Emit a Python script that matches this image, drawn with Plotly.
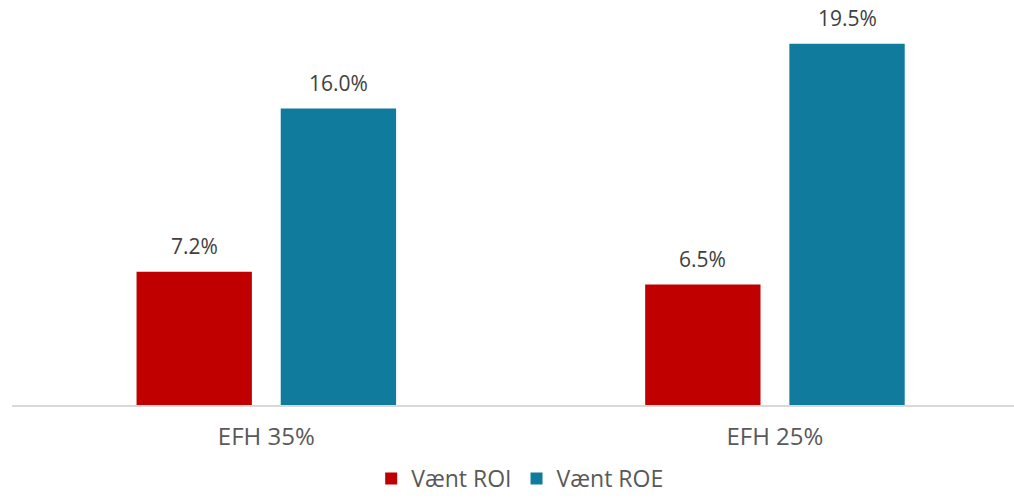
import plotly.graph_objects as go

categories = ["EFH 35%", "EFH 25%"]
roi = [7.2, 6.5]
roe = [16.0, 19.5]
series_names = ["Vænt ROI", "Vænt ROE"]

RED = "#C00000"
BLUE = "#117B9D"
FONT = "Open Sans"

x_idx = list(range(len(categories)))

fig = go.Figure()
fig.add_trace(go.Bar(x=x_idx, y=roi, name=series_names[0], marker=dict(color=RED, line=dict(width=0))))
fig.add_trace(go.Bar(x=x_idx, y=roe, name=series_names[1], marker=dict(color=BLUE, line=dict(width=0))))

off = 0.1417
for i, (a, b) in enumerate(zip(roi, roe)):
    for xv, v in ((i - off, a), (i + off, b)):
        fig.add_annotation(x=xv, y=v, xref="x", yref="y", text=f"{v:.1f}%",
                           showarrow=False, yanchor="bottom", yshift=10,
                           font=dict(family=FONT, size=21, color="#404040"))

fig.update_layout(
    width=1014, height=503,
    margin=dict(l=12, r=0, t=16, b=98, autoexpand=False),
    paper_bgcolor="white", plot_bgcolor="white",
    barmode="group", bargap=0.433, bargroupgap=0.2,
    font=dict(family=FONT, color="#595959"),
    legend=dict(orientation="h", x=0.513, xanchor="center", xref="container",
                y=0.006, yanchor="bottom", yref="container",
                font=dict(size=23, color="#595959"), itemwidth=30, traceorder="normal"),
    xaxis=dict(tickmode="array", tickvals=x_idx, ticktext=categories, range=[-0.5, 1.47],
               automargin=False,
               showline=True, linecolor="#D9D9D9", linewidth=2, showgrid=False, zeroline=False,
               ticks="", tickfont=dict(size=24, color="#595959"), ticklabelstandoff=9),
    yaxis=dict(range=[0, 21], visible=False, showgrid=False, zeroline=False, automargin=False),
)

fig.write_html("out.html", config={"displayModeBar": False},
               post_script="document.body.style.margin='0';document.body.style.overflow='hidden';")
